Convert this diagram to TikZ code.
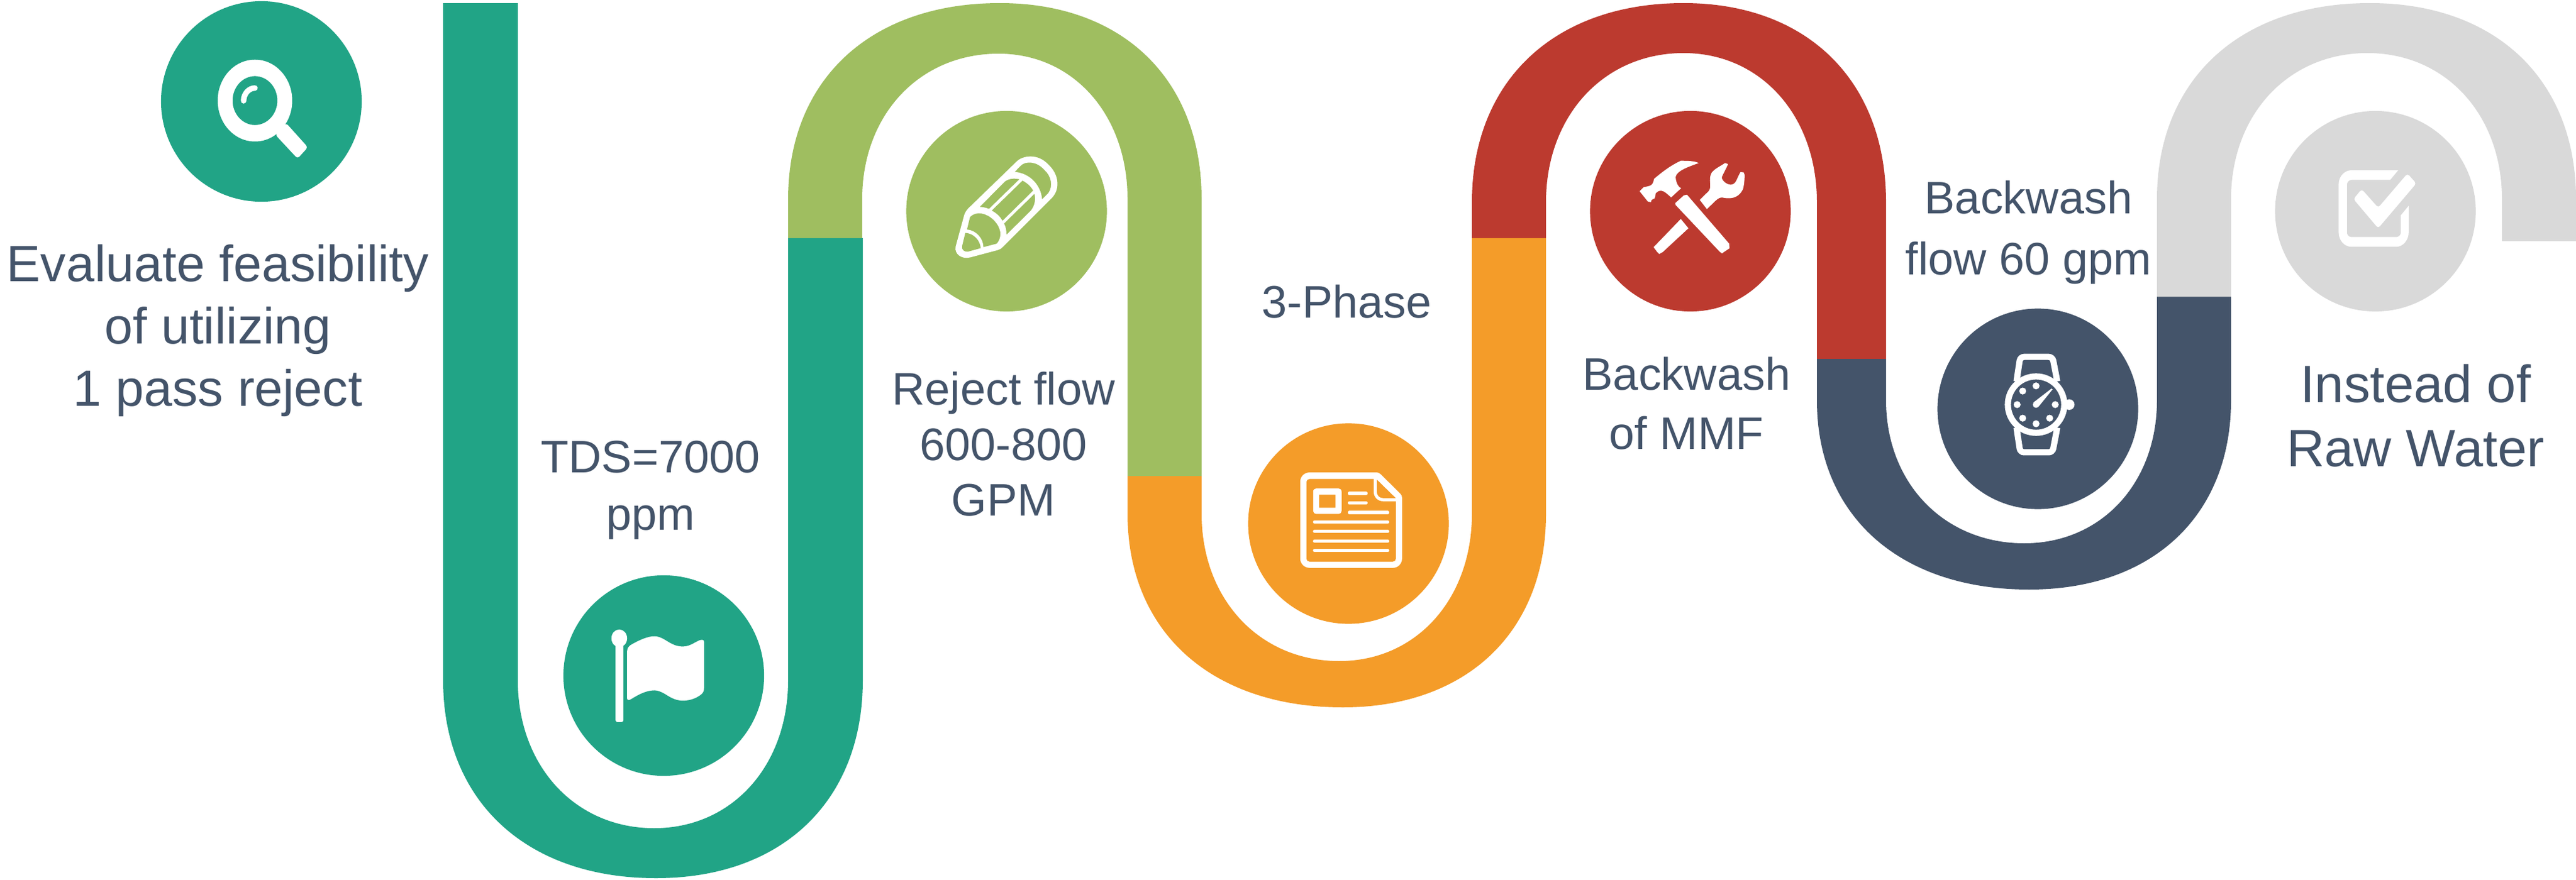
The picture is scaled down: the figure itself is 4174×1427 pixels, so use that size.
\documentclass[tikz,border=0pt]{standalone}
\usepackage{fontspec}
\setmainfont{Liberation Sans}
\definecolor{cteal}{HTML}{21A486}
\definecolor{cgreen}{HTML}{9FBE60}
\definecolor{corange}{HTML}{F49C29}
\definecolor{cred}{HTML}{BC3A2F}
\definecolor{cnavy}{HTML}{44546A}
\definecolor{cgrey}{HTML}{D9D9D9}
\tikzset{
  disc/.style={circle,minimum size=3.25cm,inner sep=0pt,draw=none},
  lbl/.style 2 args={text=cnavy,align=center,inner sep=0pt,font=\fontsize{#1}{#2}\selectfont},
  iconscope/.style={shift={#1},x=0.033333mm,y=-0.033333mm},
  iconfill/.style={fill=white,even odd rule},
}
\begin{document}
\begin{tikzpicture}[x=0.01cm,y=-0.01cm]
\useasboundingbox (0,0) rectangle (4174,1427);
\def\kk{0.61}
\def\kn{0.58}
% ribbon: colour / x outer left / x inner left / x inner right / x outer right / y left end / y right end / y bend start / y apex outer / y apex inner / x apex outer / x apex inner
\foreach \c/\xa/\xb/\xc/\xd/\ya/\yb/\yc/\yo/\yi/\xo/\xi in {
  cteal/718/839/1277/1398/5/386/1103/1424/1343/1063/1060,
  cgreen/1277/1397/1827/1947/386/772/323/5/87/1620/1618,
  corange/1827/1947/2385/2505/772/386/833/1147/1072/2176/2170,
  cred/2385/2505/2944/3056/386/582/328/5/86/2728/2728,
  cnavy/2944/3056/3495/3615/582/481/649/956/881/3288/3280,
  cgrey/3495/3615/4054/4174/481/391/323/5/86/3840/3836}{
  \fill[\c] (\xa,\ya) -- (\xa,\yc)
    .. controls (\xa,{\yc+\kk*(\yo-\yc)}) and ({\xo-\kk*(\xo-\xa)},\yo) .. (\xo,\yo)
    .. controls ({\xo+\kk*(\xd-\xo)},\yo) and (\xd,{\yc+\kk*(\yo-\yc)}) .. (\xd,\yc)
    -- (\xd,\yb) -- (\xc,\yb) -- (\xc,\yc)
    .. controls (\xc,{\yc+\kn*(\yi-\yc)}) and ({\xi+\kn*(\xc-\xi)},\yi) .. (\xi,\yi)
    .. controls ({\xi-\kn*(\xi-\xb)},\yi) and (\xb,{\yc+\kn*(\yi-\yc)}) .. (\xb,\yc)
    -- (\xb,\ya) -- cycle;
}
% discs
\node[disc,fill=cteal]   (d1) at (423.5,164.5) {};
\node[disc,fill=cteal]   (d2) at (1075.5,1095.5) {};
\node[disc,fill=cgreen]  (d3) at (1631,342.5) {};
\node[disc,fill=corange] (d4) at (2185,849) {};
\node[disc,fill=cred]    (d5) at (2739,342.5) {};
\node[disc,fill=cnavy]   (d6) at (3302,663) {};
\node[disc,fill=cgrey]   (d7) at (3849,342.5) {};
% magnifier
\begin{scope}[iconscope={(230,0)}]
  \fill[iconfill] (549,489) ellipse [x radius=181,y radius=199] (549,489) ellipse [x radius=109,y radius=119];
  \fill[white,rounded corners=1.2pt] (700,598) -- (806,716) -- (756,771) -- (648,655) -- cycle;
  \draw[white,line width=0.9mm,line cap=round] (494,490) .. controls (494,455) and (520,428) .. (549,428);
\end{scope}
% flag
\begin{scope}[iconscope={(890,920)}]
  \fill[white,rounded corners=0.8pt] (322,370) rectangle (360,752);
  \fill[white] (340,345) ellipse [x radius=38,y radius=43];
  \fill[white] (378,410) .. controls (378,390) and (390,380) .. (400,375)
    .. controls (440,352) and (480,335) .. (510,335)
    .. controls (560,335) and (585,385) .. (650,385)
    .. controls (690,385) and (720,352) .. (742,352)
    .. controls (748,352) and (752,356) .. (752,362)
    -- (752,585) .. controls (752,605) and (745,612) .. (735,620)
    .. controls (715,635) and (685,648) .. (650,648)
    .. controls (585,648) and (560,598) .. (510,598)
    .. controls (470,598) and (430,620) .. (395,642)
    .. controls (385,648) and (378,645) .. (378,635) -- cycle;
\end{scope}
% pencil
\begin{scope}[iconscope={(1440,170)}]
  \fill[iconfill] (325,690) -- (367,535) .. controls (372,522) and (375,517) .. (385,505)
    -- (620,277) .. controls (650,245) and (725,235) .. (775,290)
    .. controls (825,335) and (835,405) .. (795,450) -- (555,690)
    .. controls (545,700) and (540,703) .. (530,706) -- (395,742)
    .. controls (355,752) and (318,725) .. (325,690) -- cycle
    (372,622) .. controls (415,625) and (445,660) .. (447,697) -- (385,714)
      .. controls (368,716) and (353,705) .. (356,688) -- cycle
    (380,606) .. controls (425,610) and (460,650) .. (460,692) -- (525,675)
      .. controls (555,640) and (545,595) .. (510,560)
      .. controls (475,525) and (425,515) .. (395,545) -- cycle
    (442,496) .. controls (460,497) and (475,501) .. (487,506) -- (635,362)
      .. controls (610,356) and (585,358) .. (565,372) -- cycle
    (500,514) .. controls (525,527) and (542,545) .. (553,564) -- (702,417)
      .. controls (690,395) and (672,380) .. (650,368) -- cycle
    (560,577) .. controls (570,595) and (572,612) .. (572,632) -- (690,515)
      .. controls (710,490) and (715,460) .. (708,432) -- cycle
    (612,326) .. controls (685,332) and (740,390) .. (745,460) -- (775,430)
      .. controls (800,395) and (790,345) .. (755,315)
      .. controls (720,275) and (665,270) .. (640,297) -- cycle;
\end{scope}
% document
\begin{scope}[iconscope={(2000,680)}]
  \fill[iconfill] (320,305) .. controls (320,278) and (340,258) .. (367,258) -- (692,258)
    .. controls (700,258) and (706,262) .. (712,268) -- (805,360)
    .. controls (812,367) and (815,373) .. (815,382) -- (815,675)
    .. controls (815,702) and (795,722) .. (770,722) -- (367,722)
    .. controls (340,722) and (320,702) .. (320,675) -- cycle
    (350,305) .. controls (350,296) and (356,290) .. (365,290) -- (677,290) -- (677,352)
      .. controls (677,378) and (697,398) .. (722,398) -- (785,398) -- (785,677)
      .. controls (785,686) and (779,692) .. (770,692) -- (365,692)
      .. controls (356,692) and (350,686) .. (350,677) -- cycle
    (692,292) -- (785,383) -- (722,383) .. controls (705,383) and (692,370) .. (692,352) -- cycle;
  \fill[iconfill] (383,352) .. controls (383,342) and (390,336) .. (398,336) -- (506,336)
    .. controls (515,336) and (521,342) .. (521,352) -- (521,445)
    .. controls (521,454) and (515,460) .. (506,460) -- (398,460)
    .. controls (390,460) and (383,454) .. (383,445) -- cycle
    (412,366) rectangle (491,430);
  \draw[white,line width=0.53mm,line cap=round]
    (559,360) -- (640,360) (559,406) -- (640,406) (559,453) -- (745,453)
    (390,499) -- (745,499) (390,545) -- (745,545) (390,592) -- (745,592) (390,638) -- (745,638);
\end{scope}
% tools
\begin{scope}[iconscope={(2560,170)}]
  \fill[white,line join=round] (290,420) -- (310,400) .. controls (330,395) and (355,400) .. (360,360)
    .. controls (395,330) and (440,295) .. (490,272) .. controls (520,272) and (555,272) .. (577,283)
    .. controls (530,300) and (470,320) .. (465,350) .. controls (465,370) and (475,400) .. (492,405)
    -- (443,450) .. controls (420,430) and (395,400) .. (368,430) .. controls (365,445) and (368,450) .. (362,455)
    -- (348,462) -- (345,473) -- (330,470) -- cycle;
  \fill[white] (463,478) -- (505,440) -- (520,437) -- (725,675) -- (727,697) -- (690,722) -- (680,715) -- (465,487) -- cycle;
  \fill[white] (582,462) -- (625,420) .. controls (645,395) and (620,365) .. (640,330)
    .. controls (655,310) and (680,300) .. (705,283) -- (720,288) -- (692,345)
    .. controls (680,360) and (710,390) .. (735,388) .. controls (760,385) and (760,360) .. (780,327)
    -- (795,328) -- (800,340) .. controls (800,360) and (798,390) .. (792,410)
    .. controls (775,445) and (745,460) .. (700,452) .. controls (675,445) and (665,460) .. (617,507) -- cycle;
  \fill[white] (490,555) -- (527,600) -- (402,716) -- (385,725) -- (375,715) -- (358,692) -- cycle;
\end{scope}
% watch
\begin{scope}[iconscope={(3130,490)}]
  \draw[white,line width=1mm,rounded corners=1.8pt] (412,385) -- (430,266) -- (587,266) -- (610,385);
  \draw[white,line width=1mm,rounded corners=1.8pt] (412,610) -- (430,730) -- (587,730) -- (610,610);
  \draw[white,line width=1mm] (507,498) circle [radius=137];
  \fill[white] (668,498) circle [radius=26];
  \foreach \px/\py in {507/407,442/432,415/498,442/564,507/591,573/564,600/498}
    \fill[white] (\px,\py) circle [radius=17];
  \fill[white] (507,498) circle [radius=16];
  \fill[white] (495,487) -- (582,420) -- (587,424) -- (520,507) -- cycle;
\end{scope}
% check
\begin{scope}[iconscope={(3650,170)}]
  \fill[white] (418,385) .. controls (418,350) and (445,318) .. (480,318) -- (707,318) -- (668,365) -- (480,365)
    .. controls (468,365) and (458,375) .. (458,390) -- (458,620)
    .. controls (458,633) and (468,643) .. (480,643) -- (698,643)
    .. controls (710,643) and (720,633) .. (720,620) -- (720,537) -- (758,491) -- (758,620)
    .. controls (758,658) and (730,690) .. (698,690) -- (480,690)
    .. controls (445,690) and (418,658) .. (418,620) -- cycle;
  \fill[white,rounded corners=1.2pt] (610,500) -- (752,334) -- (795,382) -- (610,600) -- (490,458) -- (530,410) -- cycle;
\end{scope}
% labels
\node[lbl={23.5pt}{28.8pt}] (t1) at (353,536) {Evaluate feasibility\\of utilizing\\1 pass reject};
\node[lbl={21pt}{26.5pt}] (t2) at (1054,795) {TDS=7000\\ppm};
\node[lbl={21pt}{25.7pt}] (t3) at (1626,720) {Reject flow\\600-800\\GPM};
\node[lbl={21pt}{26pt}] (t4) at (2182,489) {3-Phase};
\node[lbl={21pt}{27.2pt}] (t5) at (2733,654) {Backwash\\of MMF};
\node[lbl={21pt}{28pt}] (t6) at (3287,377) {Backwash\\flow 60 gpm};
\node[lbl={24.2pt}{29.5pt}] (t7) at (3914,674) {Instead of\\Raw Water};
\end{tikzpicture}
\end{document}
